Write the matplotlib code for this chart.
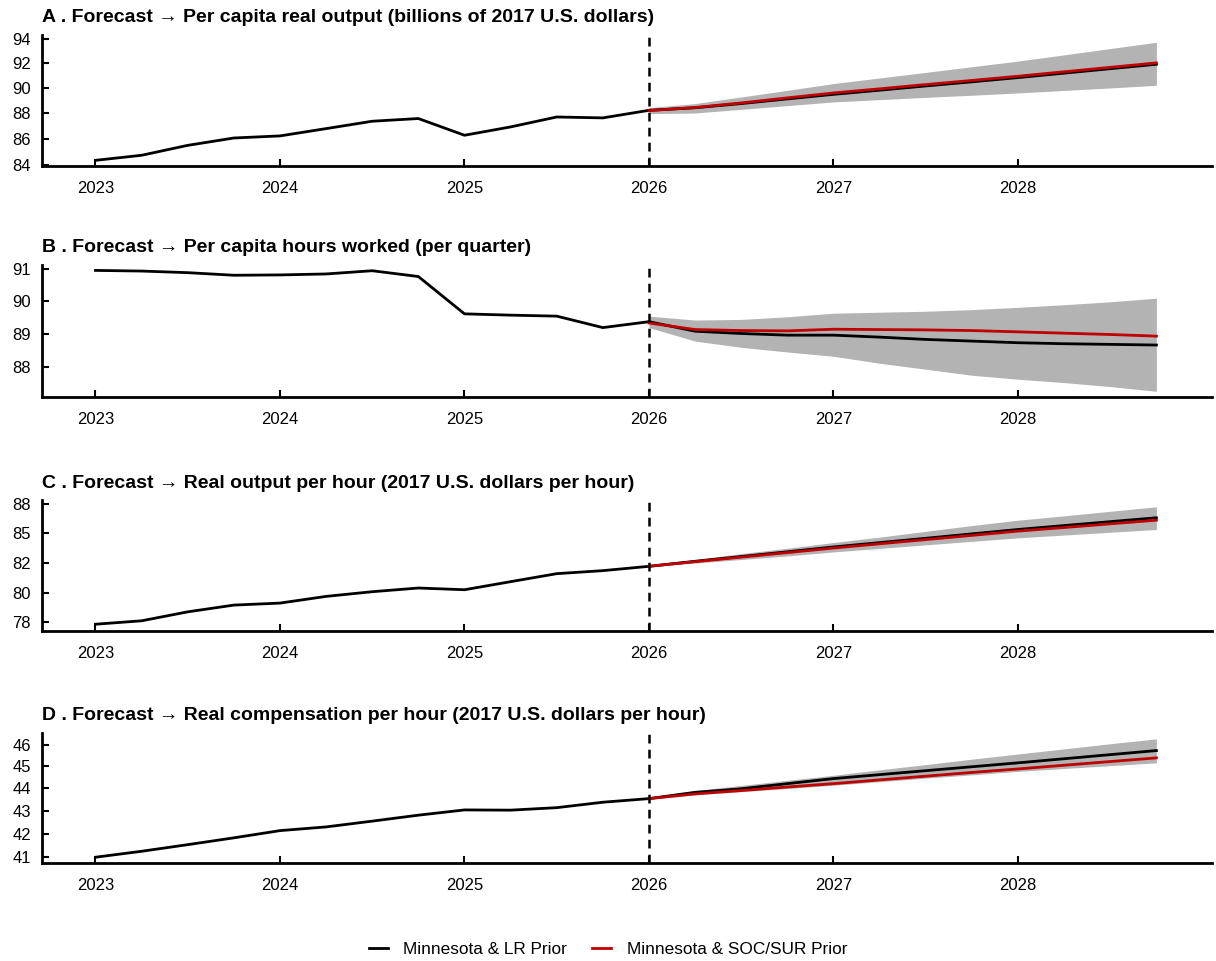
import matplotlib
matplotlib.use("Agg")
import matplotlib.pyplot as plt
from matplotlib.ticker import FixedLocator, NullLocator
from matplotlib.lines import Line2D

plt.rcParams['font.family'] = ['Liberation Sans', 'DejaVu Sans']

# quarters
hist_q = ['2023Q1', '2023Q2', '2023Q3', '2023Q4', '2024Q1', '2024Q2', '2024Q3',
          '2024Q4', '2025Q1', '2025Q2', '2025Q3', '2025Q4', '2026Q1']
fc_q = ['2026Q1', '2026Q2', '2026Q3', '2026Q4', '2027Q1', '2027Q2', '2027Q3',
        '2027Q4', '2028Q1', '2028Q2', '2028Q3', '2028Q4']

def qnum(q):
    return int(q[:4]) + (int(q[-1]) - 1) / 4

# A . real output per capita
a_hist = [84.37, 84.75, 85.50, 86.06, 86.22, 86.78, 87.35, 87.56, 86.27, 86.91, 87.68, 87.61, 88.20]
a_lr = [88.20, 88.40, 88.73, 89.10, 89.46, 89.79, 90.13, 90.46, 90.80, 91.16, 91.52, 91.88]
a_soc = [88.18, 88.42, 88.78, 89.18, 89.57, 89.90, 90.24, 90.57, 90.91, 91.27, 91.63, 91.99]
a_hi = [88.41, 88.73, 89.25, 89.78, 90.32, 90.77, 91.22, 91.68, 92.14, 92.65, 93.17, 93.69]
a_lo = [87.94, 87.99, 88.28, 88.57, 88.86, 89.04, 89.22, 89.39, 89.57, 89.77, 89.97, 90.18]

# B . hours worked per capita
b_hist = [90.95, 90.93, 90.88, 90.80, 90.81, 90.84, 90.94, 90.76, 89.61, 89.57, 89.54, 89.19, 89.37]
b_lr = [89.37, 89.08, 89.01, 88.96, 88.96, 88.90, 88.83, 88.78, 88.73, 88.70, 88.68, 88.66]
b_soc = [89.33, 89.13, 89.10, 89.09, 89.14, 89.13, 89.12, 89.10, 89.06, 89.02, 88.98, 88.93]
b_hi = [89.54, 89.42, 89.44, 89.52, 89.63, 89.66, 89.69, 89.74, 89.81, 89.89, 89.98, 90.09]
b_lo = [89.19, 88.78, 88.59, 88.45, 88.32, 88.11, 87.93, 87.75, 87.63, 87.53, 87.41, 87.27]

# C . output per hour
c_hist = [77.44, 77.71, 78.42, 78.96, 79.12, 79.66, 80.04, 80.34, 80.20, 80.86, 81.52, 81.77, 82.13]
c_lr = [82.13, 82.55, 82.95, 83.35, 83.76, 84.13, 84.50, 84.88, 85.26, 85.60, 85.94, 86.28]
c_soc = [82.13, 82.52, 82.90, 83.28, 83.67, 84.03, 84.39, 84.75, 85.12, 85.43, 85.75, 86.07]
c_hi = [82.20, 82.70, 83.20, 83.65, 84.14, 84.60, 85.10, 85.60, 86.07, 86.45, 86.85, 87.25]
c_lo = [82.10, 82.40, 82.70, 83.00, 83.34, 83.64, 83.94, 84.24, 84.54, 84.78, 85.02, 85.26]

# D . compensation per hour
d_hist = [41.00, 41.25, 41.53, 41.82, 42.13, 42.29, 42.54, 42.80, 43.03, 43.02, 43.13, 43.37, 43.53]
d_lr = [43.53, 43.81, 43.97, 44.20, 44.43, 44.61, 44.79, 44.97, 45.15, 45.34, 45.53, 45.72]
d_soc = [43.53, 43.74, 43.89, 44.05, 44.20, 44.37, 44.54, 44.71, 44.87, 45.04, 45.21, 45.38]
d_hi = [43.58, 43.89, 44.12, 44.35, 44.58, 44.83, 45.07, 45.32, 45.56, 45.80, 46.04, 46.27]
d_lo = [43.50, 43.70, 43.84, 43.98, 44.13, 44.29, 44.45, 44.60, 44.76, 44.89, 45.02, 45.15]

titles = ['A . Forecast \u2192 Per capita real output (billions of 2017 U.S. dollars)',
          'B . Forecast \u2192 Per capita hours worked (per quarter)',
          'C . Forecast \u2192 Real output per hour (2017 U.S. dollars per hour)',
          'D . Forecast \u2192 Real compensation per hour (2017 U.S. dollars per hour)']

# y ticks (log scale) and labels
yticks = [[84, 86, 88, 90, 92, 94], [88, 89, 90, 91],
          [77.6, 79.97, 82.41, 84.92, 87.51], [41, 42, 43, 44, 45, 46]]
yticklabels = [['84', '86', '88', '90', '92', '94'], ['88', '89', '90', '91'],
               ['78', '80', '82', '85', '88'], ['41', '42', '43', '44', '45', '46']]
ylims = [(83.95, 94.3), (87.1, 91.12), (76.91, 87.85), (40.76, 46.55)]
years = [2023, 2024, 2025, 2026, 2027, 2028]

panels = [(a_hist, a_lr, a_soc, a_hi, a_lo), (b_hist, b_lr, b_soc, b_hi, b_lo),
          (c_hist, c_lr, c_soc, c_hi, c_lo), (d_hist, d_lr, d_soc, d_hi, d_lo)]

bottoms = [0.8273, 0.5869, 0.3434, 0.1020]
heights = [0.1363, 0.1374, 0.1363, 0.1353]

xh = [qnum(q) for q in hist_q]
xf = [qnum(q) for q in fc_q]

red = '#c00000'
band = '#b3b3b3'

fig = plt.figure(figsize=(12.16, 9.61), dpi=100)

for i, (hist, lr, soc, hi, lo) in enumerate(panels):
    ax = fig.add_axes([0.0345, bottoms[i], 0.962, heights[i]])
    ax.fill_between(xf, lo, hi, color=band, lw=0)
    ax.plot(xh, hist, color='black', lw=2)
    ax.plot(xf, lr, color='black', lw=2)
    ax.plot(xf, soc, color=red, lw=2)
    ax.axvline(2026, color='black', lw=1.8, ls=(0, (3.5, 2.5)))
    ax.set_yscale('log')
    ax.set_ylim(ylims[i])
    ax.set_xlim(2022.71, 2029.05)
    ax.yaxis.set_major_locator(FixedLocator(yticks[i]))
    ax.yaxis.set_minor_locator(NullLocator())
    ax.set_yticklabels(yticklabels[i])
    ax.set_xticks(years)
    ax.set_xticklabels([str(y) for y in years])
    for s in ['top', 'right']:
        ax.spines[s].set_visible(False)
    for s in ['left', 'bottom']:
        ax.spines[s].set_linewidth(2)
    ax.tick_params(axis='both', direction='in', length=5, width=1.5, labelsize=12)
    ax.tick_params(axis='x', pad=10.5)
    ax.tick_params(axis='y', pad=8)
    ax.set_title(titles[i], loc='left', fontsize=14, fontweight='bold', pad=9, x=0.0)

handles = [Line2D([], [], color='black', lw=2), Line2D([], [], color=red, lw=2)]
fig.legend(handles, ['Minnesota & LR Prior', 'Minnesota & SOC/SUR Prior'],
           loc='lower center', bbox_to_anchor=(0.5, -0.012), ncol=2, frameon=False,
           fontsize=12.4, handlelength=1.1, handletextpad=0.9, columnspacing=1.45)

fig.savefig('out.png', dpi=100)
